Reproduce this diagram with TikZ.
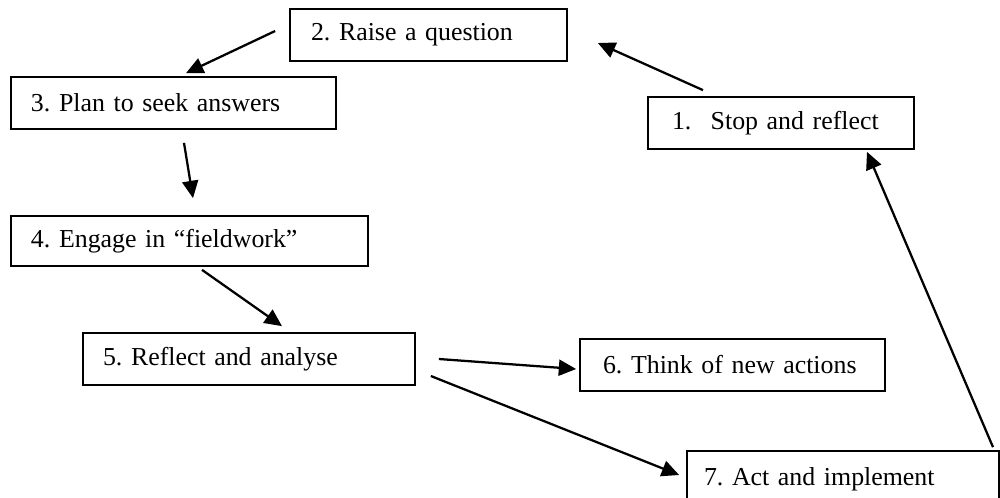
\documentclass[tikz,border=0pt]{standalone}
\usepackage{fontspec}
\setmainfont{Liberation Serif}
\usetikzlibrary{arrows.meta,calc}
\frenchspacing
\begin{document}
\begin{tikzpicture}[x=0.75pt,y=-0.75pt,
  stepbox/.style={draw,line width=1.3pt,align=left,inner ysep=0pt,
    font=\fontsize{19.4}{23}\selectfont},
  flow/.style={line width=1.7pt,-{Triangle[length=13pt,width=12pt]}}]
\useasboundingbox (0,0) rectangle (1000,497);
\clip (0,0) rectangle (1000,497);
\node[stepbox,text width=163.5pt,inner xsep=18pt,minimum height=39pt] (n1) at (781,123) {\mbox{1.\hspace{8pt} Stop and reflect}};
\node[stepbox,text width=176.25pt,inner xsep=15.75pt,minimum height=39pt] (n2) at (428.5,35) {\mbox{2. Raise a question}};
\node[stepbox,text width=213.75pt,inner xsep=15pt,minimum height=39pt] (n3) at (173.5,103) {\mbox{3. Plan to seek answers}};
\node[stepbox,text width=237.75pt,inner xsep=15pt,minimum height=37.5pt] (n4) at (189.5,241) {\mbox{4. Engage in “fieldwork”}};
\node[stepbox,text width=219pt,inner xsep=15pt,minimum height=39pt] (n5) at (249,359) {\mbox{5. Reflect and analyse}};
\node[stepbox,text width=194.25pt,inner xsep=17.25pt,minimum height=39pt] (n6) at (732.5,365) {\mbox{6. Think of new actions}};
\node[stepbox,text width=208.5pt,inner xsep=12.75pt,minimum height=42pt] (n7) at (843,479) {\mbox{7. Act and implement}};
\draw[flow] ($(n2.west)+(-14,-4)$) -- ($(n3.north)+(12.5,-3)$);
\draw[flow] ($(n1.north)+(-78,-6)$) -- ($(n2.east)+(30,8)$);
\draw[flow] ($(n3.south)+(10.5,13)$) -- ($(n4.north)+(3.5,-17)$);
\draw[flow] ($(n4.south)+(12.5,3)$) -- ($(n5.north)+(33,-6)$);
\draw[flow] ($(n5.east)+(23,0)$) -- ($(n6.west)+(-3,4)$);
\draw[flow] ($(n5.east)+(15,17)$) -- ($(n7.west)+(-7,-4)$);
\draw[flow] ($(n7.north)+(150,-3)$) -- ($(n1.south)+(86,2)$);
\end{tikzpicture}
\end{document}
